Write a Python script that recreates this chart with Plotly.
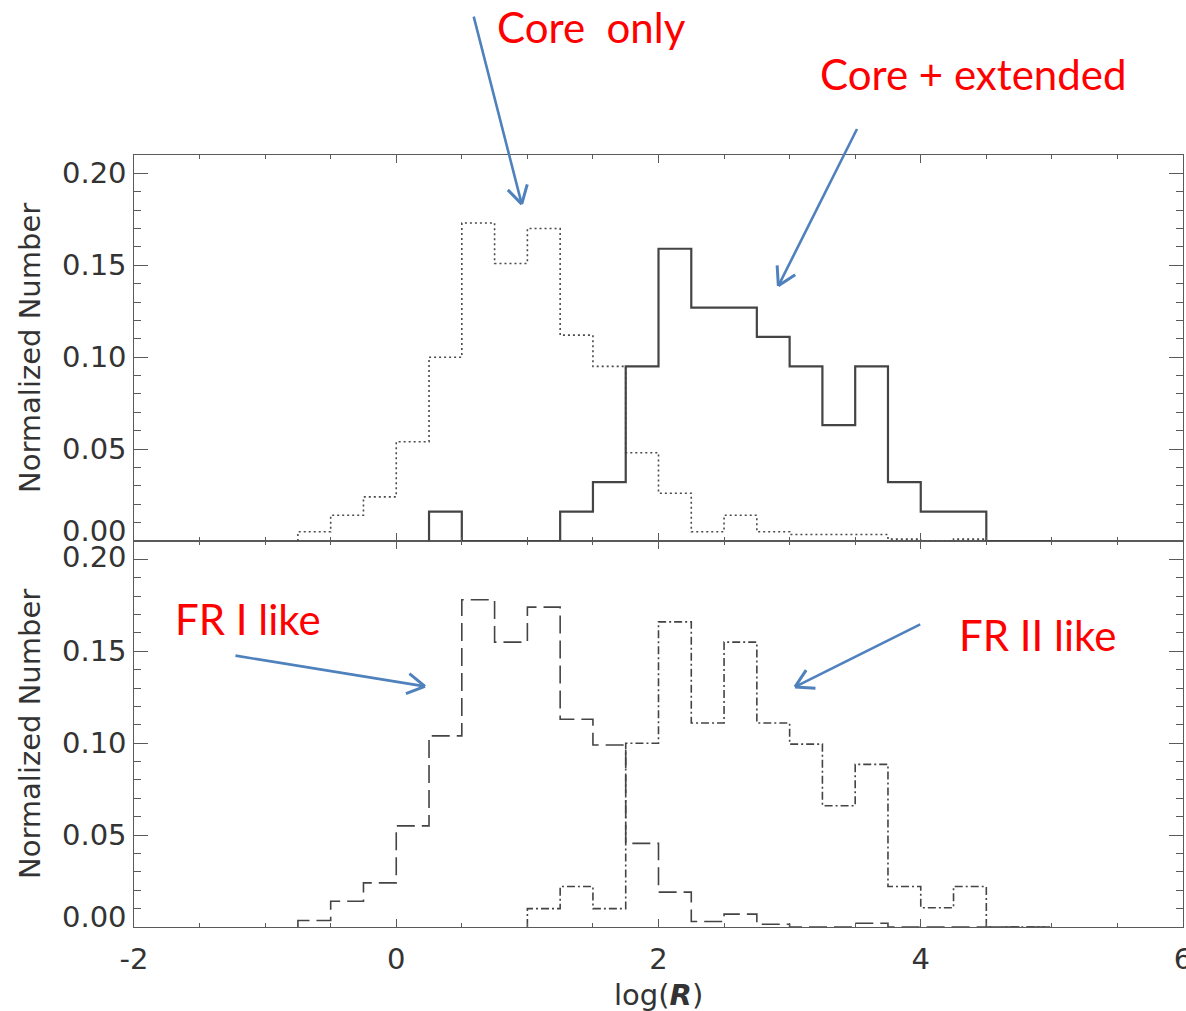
import math
import plotly.graph_objects as go

# Histogram bins of log(R): left edges, width 0.25
bin_left_edges = [-0.75, -0.5, -0.25, 0.0, 0.25, 0.5, 0.75, 1.0, 1.25, 1.5, 1.75,
                  2.0, 2.25, 2.5, 2.75, 3.0, 3.25, 3.5, 3.75, 4.0, 4.25, 4.5, 4.75]
bin_right_edge = 5.0

# Upper panel: core only (dotted) and core + extended (solid)
core_only = [0.005, 0.014, 0.024, 0.054, 0.100, 0.173, 0.151, 0.170, 0.112, 0.095, 0.048,
             0.026, 0.005, 0.014, 0.005, 0.0035, 0.0035, 0.0035, 0.001, 0.0, 0.001, 0.0, 0.0]
core_extended = [0.0, 0.0, 0.0, 0.0, 0.016, 0.0, 0.0, 0.0, 0.016, 0.032, 0.095,
                 0.159, 0.127, 0.127, 0.111, 0.095, 0.063, 0.095, 0.032, 0.016, 0.016, 0.0, 0.0]

# Lower panel: FR I like (dashed) and FR II like (dash-dot)
fr1_like = [0.0035, 0.014, 0.024, 0.055, 0.104, 0.178, 0.155, 0.174, 0.113, 0.099, 0.0455,
            0.019, 0.003, 0.007, 0.0015, 0.0, 0.0, 0.002, 0.0, 0.0, 0.0, 0.0, 0.0]
fr2_like = [0.0, 0.0, 0.0, 0.0, 0.0, 0.0, 0.0, 0.010, 0.022, 0.010, 0.100,
            0.166, 0.111, 0.155, 0.111, 0.0995, 0.066, 0.0885, 0.022, 0.0105, 0.022, 0.0, 0.0]

x_tick_values = [-2, 0, 2, 4, 6]
x_tick_labels = ["-2", "0", "2", "4", "6"]
y_tick_values = [0.0, 0.05, 0.10, 0.15, 0.20]

AXIS_GREY = "#5a5a5a"
TEXT_GREY = "#333333"
ARROW_BLUE = "#4F81BD"
LABEL_FONT = "DejaVu Sans"
NOTE_FONT = "Lato"


def step_trace(values, dash, width, color, xaxis, yaxis):
    """Histogram outline starting at the first non-empty bin and closing at the last edge."""
    first = next(i for i, v in enumerate(values) if v > 0)
    edges = bin_left_edges[first:]
    vals = values[first:]
    xs = [edges[0]] + edges + [bin_right_edge]
    ys = [0.0] + vals + [0.0]
    return go.Scatter(x=xs, y=ys, mode="lines", line_shape="hv",
                      line=dict(color=color, width=width, dash=dash),
                      xaxis=xaxis, yaxis=yaxis, showlegend=False, hoverinfo="skip")


fig = go.Figure()
fig.add_trace(step_trace(core_only, "2px,3px", 1.6, "#4a4a4a", "x2", "y2"))
fig.add_trace(step_trace(core_extended, "solid", 2.2, "#444444", "x2", "y2"))
fig.add_trace(step_trace(fr1_like, "18px,7px", 1.6, "#444444", "x", "y"))
fig.add_trace(step_trace(fr2_like, "8px,3px,2px,3px", 1.6, "#444444", "x", "y"))

common_x = dict(range=[-2, 6], tickvals=x_tick_values, ticktext=x_tick_labels,
                ticks="inside", ticklen=8, tickwidth=1.4, tickcolor=AXIS_GREY,
                minor=dict(dtick=0.5, ticks="inside", ticklen=4, tickwidth=1.2,
                           tickcolor=AXIS_GREY),
                showline=True, linecolor=AXIS_GREY, linewidth=1.4, mirror="ticks",
                showgrid=False, zeroline=False, automargin=False)
common_y = dict(range=[0, 0.21], tickvals=y_tick_values, showticklabels=False,
                ticks="inside", ticklen=14, tickwidth=1.4, tickcolor=AXIS_GREY,
                minor=dict(dtick=0.01, ticks="inside", ticklen=7, tickwidth=1.2,
                           tickcolor=AXIS_GREY),
                showline=True, linecolor=AXIS_GREY, linewidth=1.4, mirror="ticks",
                showgrid=False, zeroline=False, automargin=False)

fig.update_layout(
    width=1186, height=1011,
    margin=dict(l=134, r=3, t=155, b=84, autoexpand=False),
    paper_bgcolor="white", plot_bgcolor="white",
    xaxis=dict(common_x, anchor="y", domain=[0, 1],
               tickfont=dict(family=LABEL_FONT, size=29, color=TEXT_GREY),
               ticklabeloverflow="allow", ticklabelstandoff=6),
    xaxis2=dict(common_x, anchor="y2", domain=[0, 1], matches="x", showticklabels=False),
    yaxis=dict(common_y, anchor="x", domain=[0, 0.5]),
    yaxis2=dict(common_y, anchor="x2", domain=[0.5, 1]),
)

# y tick labels; the zero labels sit slightly raised off the panel edge
for yref in ("y", "y2"):
    for v in y_tick_values:
        fig.add_annotation(x=0, xref="paper", xanchor="right", xshift=-5,
                           y=v, yref=yref, yanchor="middle",
                           yshift=10 if v == 0 else (2 if (v == 0.20 and yref == "y") else 0),
                           text=f"{v:.2f}", showarrow=False,
                           font=dict(family=LABEL_FONT, size=29, color=TEXT_GREY))

# axis titles
for yref in ("y domain", "y2 domain"):
    fig.add_annotation(x=0, xref="paper", xshift=-104, y=0.5, yref=yref,
                       text="Normalized Number", textangle=-90, showarrow=False,
                       xanchor="center", yanchor="middle",
                       font=dict(family=LABEL_FONT, size=29, color=TEXT_GREY))
fig.add_annotation(x=0.5, xref="x domain", y=0, yref="y domain", yshift=-68,
                   text="log(<b><i>R</i></b>)", showarrow=False,
                   xanchor="center", yanchor="middle",
                   font=dict(family=LABEL_FONT, size=29, color=TEXT_GREY))


def pointer(tip_x, tip_y, yref, tail_dx, tail_dy, head_len=22, head_deg=30):
    """Blue arrow with an open V head; tail given as a pixel offset from the tip."""
    fig.add_annotation(x=tip_x, y=tip_y, xref="x", yref=yref, ax=tail_dx, ay=tail_dy,
                       text="", showarrow=True, arrowhead=0, arrowwidth=2.6,
                       arrowcolor=ARROW_BLUE, standoff=0, startstandoff=0)
    length = math.hypot(tail_dx, tail_dy)
    ux, uy = tail_dx / length, tail_dy / length
    a = math.radians(head_deg)
    for s in (1, -1):
        hx = (ux * math.cos(a) - s * uy * math.sin(a)) * head_len
        hy = (s * ux * math.sin(a) + uy * math.cos(a)) * head_len
        fig.add_annotation(x=tip_x, y=tip_y, xref="x", yref=yref, ax=hx, ay=hy,
                           text="", showarrow=True, arrowhead=0, arrowwidth=3,
                           arrowcolor=ARROW_BLUE, standoff=0, startstandoff=0)


def note(text, x, y, xref, yref):
    fig.add_annotation(x=x, y=y, xref=xref, yref=yref, text=text, showarrow=False,
                       xanchor="center", yanchor="middle",
                       font=dict(family=NOTE_FONT, size=42, color="#FF0000"))


# labels above the upper panel are placed in panel-domain units
note("Core\u00a0 only", 0.4357, 1.332, "x domain", "y2 domain")
note("Core + extended", 0.8003, 1.210, "x domain", "y2 domain")
note("FR I like", -1.127, 0.1678, "x", "y")
note("FR II like", 4.89, 0.1591, "x", "y")

pointer(0.957, 0.1833, "y2", -48.4, -189.0)
pointer(2.914, 0.1388, "y2", 79.4, -158.4)
pointer(0.219, 0.1309, "y", -191.0, -31.0)
pointer(3.041, 0.1306, "y", 126.7, -63.3)

fig.write_html("out.html")
